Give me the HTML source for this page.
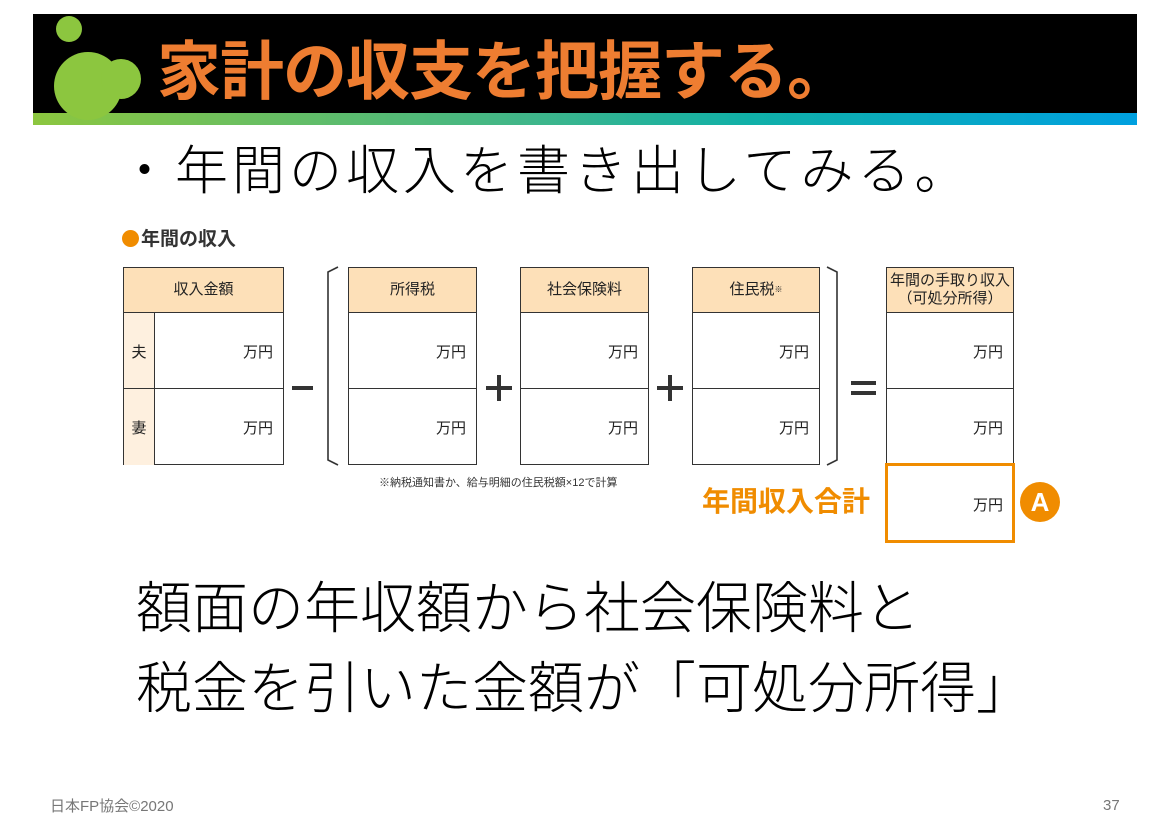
<!DOCTYPE html>
<html><head><meta charset="utf-8">
<style>
*{margin:0;padding:0;box-sizing:border-box}
body{width:1170px;height:826px;background:#fff;position:relative;overflow:hidden;font-family:"Liberation Sans","Noto Sans CJK JP",sans-serif;color:#000}
.a{position:absolute;white-space:nowrap}
.bar{left:33px;top:14px;width:1104px;height:99px;background:#000}
.grad{left:33px;top:113px;width:1104px;height:12px;background:linear-gradient(90deg,#8cc63f,#3fb68a 45%,#10b0a8 65%,#00a0e0)}
.title{left:157px;top:30px;font-size:64px;font-weight:700;color:#ee7d31;letter-spacing:-1px;line-height:84px}
.bul{left:118px;top:140px;font-size:53px;font-weight:300;letter-spacing:4px;line-height:64px}
.big{left:136px;font-size:56px;font-weight:300;line-height:70px}
.tb{position:absolute;border:1.5px solid #333;background:#fff}
.hd{position:absolute;left:0;right:0;top:0;height:45px;background:#fde0b8;border-bottom:1.5px solid #333;font-size:15px;display:flex;align-items:center;justify-content:center;text-align:center;line-height:18px;color:#222}
.r{position:absolute;left:0;right:0;height:76px;font-size:15px;color:#222}
.r span{position:absolute;right:10px;top:28px}
.ph{position:absolute;background:#333}
</style></head><body>
<div class="a bar"></div>
<div class="a grad"></div>
<svg class="a" style="left:0;top:0" width="170" height="130">
<circle cx="69" cy="29" r="13" fill="#8cc63f"/>
<circle cx="88" cy="86" r="34" fill="#8cc63f"/>
<circle cx="121" cy="79" r="20" fill="#8cc63f"/>
</svg>
<div class="a title">家計の収支を把握する。</div>
<div class="a bul">・年間の収入を書き出してみる。</div>

<div class="a" style="left:122px;top:228px;font-size:19px;font-weight:700;color:#333;line-height:24px"><span style="display:inline-block;width:17px;height:17px;border-radius:50%;background:#f08c00;vertical-align:-2px;margin-right:2px"></span>年間の収入</div>

<!-- table 1 -->
<div class="tb" style="left:123px;top:267px;width:161px;height:198px">
<div class="hd">収入金額</div>
<div class="r" style="top:45px;border-bottom:1.5px solid #333"><div style="position:absolute;left:0;top:0;bottom:0;width:31px;background:#fef0df;border-right:1.5px solid #333;text-align:center;padding-top:28px">夫</div><span>万円</span></div>
<div class="r" style="top:121px"><div style="position:absolute;left:0;top:0;bottom:0;width:31px;background:#fef0df;border-right:1.5px solid #333;text-align:center;padding-top:28px">妻</div><span>万円</span></div>
</div>
<div class="ph" style="left:292px;top:386px;width:21px;height:4px"></div>
<svg class="a" style="left:320px;top:264px" width="540" height="206">
<path d="M18 3 L8 8 L8 196 L18 201" fill="none" stroke="#333" stroke-width="1.6"/>
<path d="M507 3 L517 8 L517 196 L507 201" fill="none" stroke="#333" stroke-width="1.6"/>
</svg>
<div class="tb" style="left:348px;top:267px;width:129px;height:198px">
<div class="hd">所得税</div>
<div class="r" style="top:45px;border-bottom:1.5px solid #333"><span>万円</span></div>
<div class="r" style="top:121px"><span>万円</span></div>
</div>
<div class="ph" style="left:486px;top:386px;width:26px;height:4px"></div>
<div class="ph" style="left:497px;top:375px;width:4px;height:26px"></div>
<div class="tb" style="left:520px;top:267px;width:129px;height:198px">
<div class="hd">社会保険料</div>
<div class="r" style="top:45px;border-bottom:1.5px solid #333"><span>万円</span></div>
<div class="r" style="top:121px"><span>万円</span></div>
</div>
<div class="ph" style="left:657px;top:386px;width:26px;height:4px"></div>
<div class="ph" style="left:668px;top:375px;width:4px;height:26px"></div>
<div class="tb" style="left:692px;top:267px;width:128px;height:198px">
<div class="hd">住民税<sup style="font-size:8px">※</sup></div>
<div class="r" style="top:45px;border-bottom:1.5px solid #333"><span>万円</span></div>
<div class="r" style="top:121px"><span>万円</span></div>
</div>
<div class="ph" style="left:851px;top:381px;width:25px;height:4px"></div>
<div class="ph" style="left:851px;top:391px;width:25px;height:4px"></div>
<div class="tb" style="left:886px;top:267px;width:128px;height:198px">
<div class="hd">年間の手取り収入<br>（可処分所得）</div>
<div class="r" style="top:45px;border-bottom:1.5px solid #333"><span>万円</span></div>
<div class="r" style="top:121px"><span>万円</span></div>
</div>
<div class="a" style="left:885px;top:463px;width:130px;height:80px;border:3px solid #f08c00;font-size:15px;color:#222"><span style="position:absolute;right:9px;top:28px">万円</span></div>
<div class="a" style="left:379px;top:474px;font-size:11px;color:#333">※納税通知書か、給与明細の住民税額×12で計算</div>
<div class="a" style="left:702px;top:485px;font-size:28px;font-weight:700;color:#f08c00;line-height:34px">年間収入合計</div>
<div class="a" style="left:1020px;top:482px;width:40px;height:40px;border-radius:50%;background:#f08c00;color:#fff;font-size:26px;font-weight:700;text-align:center;line-height:40px">A</div>

<div class="a big" style="top:574px">額面の年収額から社会保険料と</div>
<div class="a big" style="top:654px">税金を引いた金額が「可処分所得」</div>

<div class="a" style="left:50px;top:795px;font-size:15px;color:#777">日本FP協会©2020</div>
<div class="a" style="left:1103px;top:797px;font-size:15px;color:#777">37</div>
</body></html>
